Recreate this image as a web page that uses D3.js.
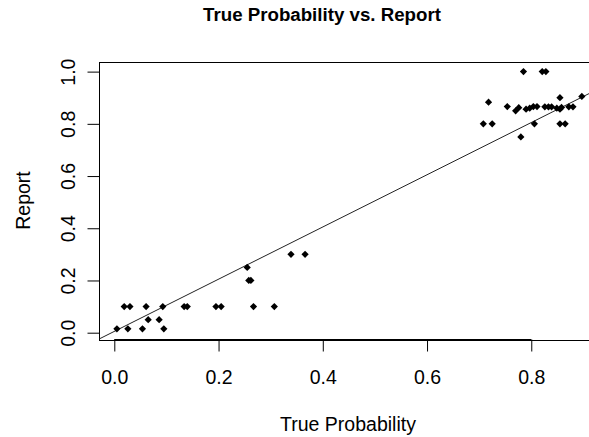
<!DOCTYPE html>
<html>
<head>
<meta charset="utf-8">
<script src="https://cdn.jsdelivr.net/npm/d3@7"></script>
<style>
  html, body { margin: 0; padding: 0; background: #fff; }
  svg { display: block; font-family: "Liberation Sans", Arial, sans-serif; }
</style>
</head>
<body>
<svg id="chart" width="589" height="437"></svg>
<script>
// ---- data ----
const trueProb = [
  0.005, 0.026, 0.054, 0.095,
  0.065, 0.086,
  0.019, 0.030, 0.061, 0.093, 0.134, 0.140, 0.195, 0.205, 0.267, 0.307,
  0.255, 0.258, 0.262, 0.339, 0.366,
  0.785, 0.821, 0.828,
  0.718,
  0.855, 0.897,
  0.754, 0.770, 0.776, 0.790, 0.797, 0.804, 0.811, 0.826, 0.833, 0.839,
  0.849, 0.855, 0.858, 0.872, 0.880,
  0.708, 0.725, 0.806, 0.855, 0.865,
  0.780
];
const report = [
  0.015, 0.015, 0.015, 0.015,
  0.05, 0.05,
  0.10, 0.10, 0.10, 0.10, 0.10, 0.10, 0.10, 0.10, 0.10, 0.10,
  0.25, 0.20, 0.20, 0.30, 0.30,
  1.00, 1.00, 1.00,
  0.883,
  0.90, 0.905,
  0.866, 0.85, 0.862, 0.856, 0.86, 0.866, 0.866, 0.865, 0.865, 0.865,
  0.86, 0.856, 0.863, 0.865, 0.865,
  0.80, 0.80, 0.80, 0.80, 0.80,
  0.75
];
const xTicks = [0.0, 0.2, 0.4, 0.6, 0.8];
const yTicks = [0.0, 0.2, 0.4, 0.6, 0.8, 1.0];
const refLine = { intercept: 0.005, slope: 1.0 };
const titleText = "True Probability vs. Report";
const xLabel = "True Probability";
const yLabel = "Report";

// ---- layout ----
const plotLeft = 99.3, plotTop = 61.7, plotRight = 600.6, plotBottom = 339.3;
const svg = d3.select("#chart");

const x = d3.scaleLinear().domain([-0.0288, 0.933]).range([plotLeft, plotRight]);
const y = d3.scaleLinear().domain([-0.0253, 1.038]).range([plotBottom, plotTop]);

svg.append("defs").append("clipPath").attr("id", "clip")
  .append("rect").attr("x", plotLeft).attr("y", plotTop)
  .attr("width", plotRight - plotLeft).attr("height", plotBottom - plotTop);

// box
svg.append("rect")
  .attr("x", Math.round(plotLeft) + 0.5).attr("y", Math.round(plotTop) + 0.5)
  .attr("width", Math.round(plotRight - plotLeft)).attr("height", Math.round(plotBottom - plotTop))
  .attr("fill", "none").attr("stroke", "#000").attr("stroke-width", 1);

// x axis
const gx = svg.append("g")
  .attr("transform", `translate(0,${Math.round(plotBottom) + 0.5})`)
  .call(d3.axisBottom(x).tickValues(xTicks).tickSize(12).tickFormat(d3.format(".1f")));
gx.select(".domain").remove();
gx.selectAll(".tick line").attr("stroke", "#000");
gx.selectAll(".tick text")
  .attr("y", 384 - 339.3).attr("dy", 0)
  .attr("font-size", "19.5px").attr("fill", "#000")
  .attr("font-family", "Liberation Sans, Arial, sans-serif");
gx.append("line").attr("x1", x(xTicks[0])).attr("x2", x(xTicks[xTicks.length - 1]))
  .attr("stroke", "#000");

// y axis
const gy = svg.append("g")
  .attr("transform", `translate(${Math.round(plotLeft) + 0.5},0)`)
  .call(d3.axisLeft(y).tickValues(yTicks).tickSize(12).tickFormat(d3.format(".1f")));
gy.select(".domain").remove();
gy.selectAll(".tick line").attr("stroke", "#000");
gy.selectAll(".tick text")
  .attr("x", 0).attr("y", 0).attr("dy", 0)
  .attr("text-anchor", "middle")
  .attr("transform", "translate(-24.8,0) rotate(-90)")
  .attr("font-size", "19.5px").attr("fill", "#000")
  .attr("font-family", "Liberation Sans, Arial, sans-serif");

// reference line
const plot = svg.append("g").attr("clip-path", "url(#clip)");
const [dx0, dx1] = x.domain();
plot.append("line")
  .attr("x1", x(dx0)).attr("y1", y(refLine.intercept + refLine.slope * dx0))
  .attr("x2", x(dx1)).attr("y2", y(refLine.intercept + refLine.slope * dx1))
  .attr("stroke", "#222").attr("stroke-width", 1);

// points (filled diamonds)
const diamond = d3.symbol().type(d3.symbolSquare).size(26);
plot.selectAll("path.pt")
  .data(trueProb.map((v, i) => [v, report[i]]))
  .join("path")
  .attr("class", "pt")
  .attr("d", diamond)
  .attr("transform", d => `translate(${x(d[0])},${y(d[1])}) rotate(45)`)
  .attr("fill", "#000");

// titles
svg.append("text").attr("x", 322).attr("y", 21)
  .attr("text-anchor", "middle").attr("font-weight", "bold")
  .attr("font-size", "18.7px").attr("fill", "#000").text(titleText);
svg.append("text").attr("x", 348).attr("y", 431)
  .attr("text-anchor", "middle").attr("font-size", "19.5px").attr("fill", "#000").text(xLabel);
svg.append("text").attr("transform", "translate(29.5,200.5) rotate(-90)")
  .attr("text-anchor", "middle").attr("font-size", "19.5px").attr("fill", "#000").text(yLabel);
</script>
</body>
</html>
